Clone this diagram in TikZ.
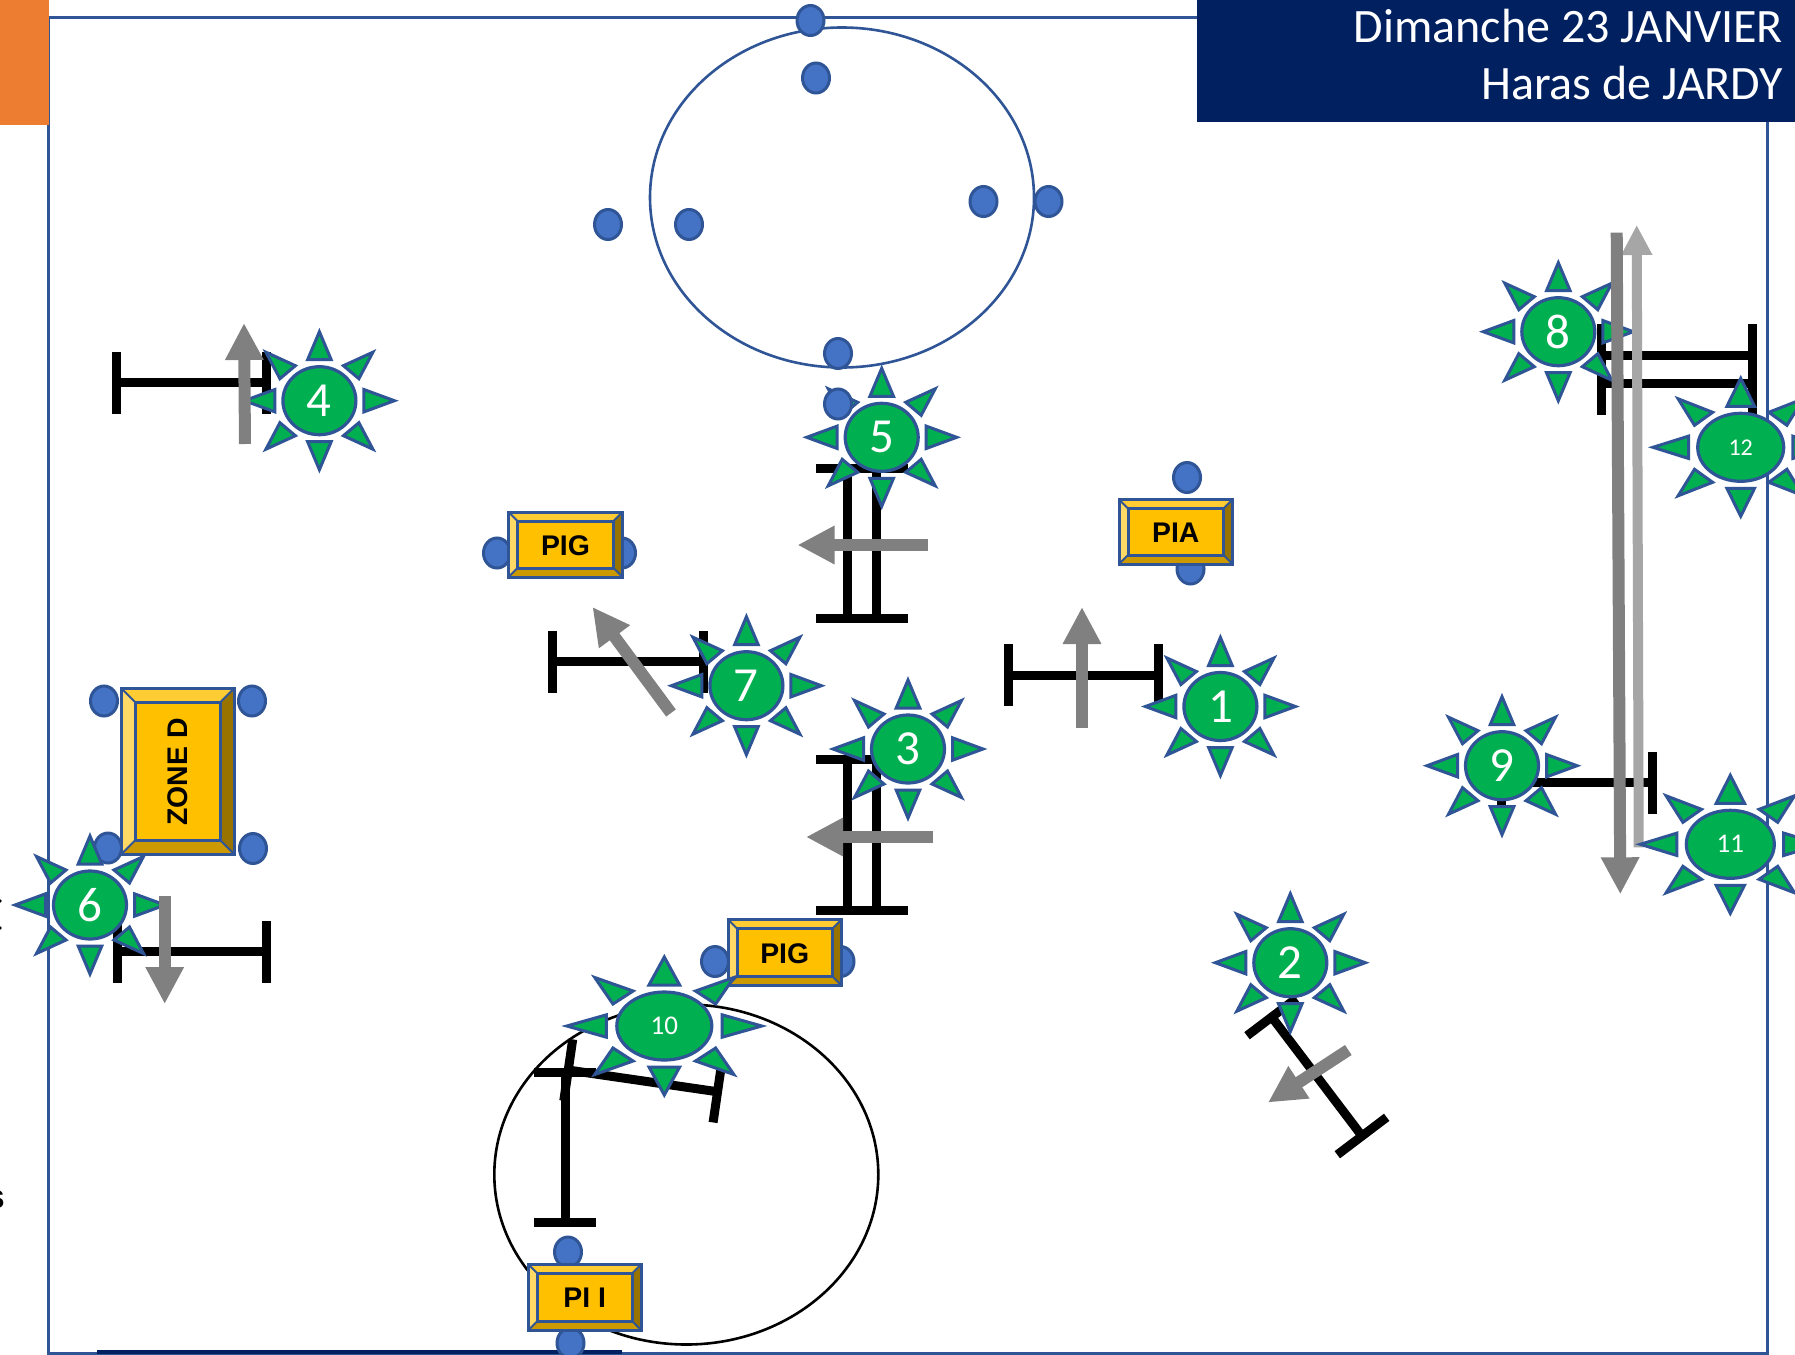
\documentclass[tikz,border=0pt]{standalone}
\usepackage{fontspec}
\setmainfont{Carlito}
\newfontfamily\boxfont{Liberation Sans}[Scale=1]
\usetikzlibrary{arrows.meta,shapes.geometric}
\definecolor{edgeblue}{HTML}{2F5597}
\definecolor{dotblue}{HTML}{4472C4}
\definecolor{sungreen}{HTML}{00B050}
\definecolor{navybar}{HTML}{002060}
\definecolor{orangebar}{HTML}{ED7D31}
\definecolor{gold}{HTML}{FFC000}
\definecolor{goldtop}{HTML}{FFCD33}
\definecolor{goldleft}{HTML}{FFD966}
\definecolor{goldright}{HTML}{997300}
\definecolor{goldbottom}{HTML}{CC9A00}
\tikzset{
  x=1pt,y=-1pt,
  frameline/.style={draw=edgeblue,line width=3pt},
  dotnode/.style={ellipse,draw=edgeblue,fill=dotblue,line width=3pt,minimum width=27pt,minimum height=30pt,inner sep=0pt},
  ibeam/.style={line width=9pt,black,{Rectangle[length=9pt,width=62pt]}-{Rectangle[length=9pt,width=62pt]}},
  blockarrow/.style={line width=12pt,draw={rgb,255:red,128;green,128;blue,128},-{Triangle[length=37pt,width=36pt]}},
  lightarrow/.style={line width=10pt,draw={rgb,255:red,166;green,166;blue,166},-{Triangle[length=30pt,width=29pt]}},
  ray/.style={draw=edgeblue,fill=sungreen,line width=3pt,line join=miter},
  sunbody/.style={ellipse,draw=edgeblue,fill=sungreen,line width=3.2pt,inner sep=0pt,text=white},
  bevel/.style={draw=edgeblue,line width=3pt,line join=miter},
  boxlabel/.style={font=\boxfont\bfseries\fontsize{28.4}{28.4}\selectfont,text=black,inner sep=0pt},
}
% name, cx, cy, xscale, body width, font size, label
\newcommand{\sunmark}[7]{%
  \begin{scope}[shift={(#2,#3)},xscale=#4]
    \draw[ray] (0,-69)--(-11.8,-41)--(11.8,-41)--cycle;
    \draw[ray] (0,69)--(-11.8,41)--(11.8,41)--cycle;
    \draw[ray] (-75,0)--(-44.5,-11.2)--(-44.5,11.2)--cycle;
    \draw[ray] (75,0)--(44.5,-11.2)--(44.5,11.2)--cycle;
    \draw[ray] (53.5,-48.5)--(24,-35)--(39.5,-22)--cycle;
    \draw[ray] (-53.5,-48.5)--(-24,-35)--(-39.5,-22)--cycle;
    \draw[ray] (53.5,48.5)--(24,35)--(39.5,22)--cycle;
    \draw[ray] (-53.5,48.5)--(-24,35)--(-39.5,22)--cycle;
  \end{scope}
  \node[sunbody,minimum width=#5pt,minimum height=68pt,font=\fontsize{#6}{#6}\selectfont] (#1) at (#2,#3) {\raisebox{-0.8pt}{#7}};%
}
% name, x1, y1, x2, y2, inset, label, rotation
\newcommand{\goldbox}[8]{%
  \fill[goldtop] (#2,#3)--(#4,#3)--(#4-#6,#3+#6)--(#2+#6,#3+#6)--cycle;
  \fill[goldleft] (#2,#3)--(#2+#6,#3+#6)--(#2+#6,#5-#6)--(#2,#5)--cycle;
  \fill[goldright] (#4,#3)--(#4,#5)--(#4-#6,#5-#6)--(#4-#6,#3+#6)--cycle;
  \fill[goldbottom] (#2,#5)--(#4,#5)--(#4-#6,#5-#6)--(#2+#6,#5-#6)--cycle;
  \fill[gold] (#2+#6,#3+#6) rectangle (#4-#6,#5-#6);
  \draw[bevel] (#2,#3) rectangle (#4,#5);
  \draw[bevel] (#2+#6,#3+#6) rectangle (#4-#6,#5-#6);
  \draw[bevel,line width=2pt] (#2,#3)--(#2+#6,#3+#6) (#4,#3)--(#4-#6,#3+#6) (#2,#5)--(#2+#6,#5-#6) (#4,#5)--(#4-#6,#5-#6);
  \node[boxlabel,rotate=#8] (#1) at ({(#2+#4)/2},{(#3+#5)/2+0.8}) {#7};%
}
\newcommand{\linkbeam}[5]{%
  \coordinate (#1a) at (#2,#3); \coordinate (#1b) at (#4,#5);
  \draw[ibeam] (#1a) -- (#1b);%
}
\begin{document}
\begin{tikzpicture}
\path[use as bounding box] (0,0) rectangle (1795,1354);
\clip (0,0) rectangle (1795,1354);
\fill[white] (0,0) rectangle (1795,1354);
% frame
\draw[frameline] (48,17.5) rectangle (1767,1353);
\fill[navybar] (97,1350) rectangle (622,1354);
\fill[orangebar] (0,0) rectangle (49,125);
\fill[navybar] (1197,0) rectangle (1795,122);
\node[anchor=base east,text=white,inner sep=0pt,font=\fontsize{48}{48}\selectfont] (t1) at (1783,42) {Dimanche 23 JANVIER};
\node[anchor=base east,text=white,inner sep=0pt,font=\fontsize{48}{48}\selectfont] (t2) at (1783,99.5) {Haras de JARDY};
% stray page fragments at the left edge
\node[anchor=base east,inner sep=0pt,font=\boxfont\bfseries\fontsize{34}{34}\selectfont] (t3) at (5,1208) {s};
\fill (0,901) circle (1.8);
\fill (0,928) circle (1.8);
% big circles
\node[ellipse,draw=edgeblue,line width=2.6pt,minimum width=384pt,minimum height=340pt,inner sep=0pt] (ringtop) at (842,197.5) {};
\node[ellipse,draw=black,line width=2.6pt,minimum width=384pt,minimum height=340pt,inner sep=0pt] (ringbot) at (686.3,1174.5) {};
% dots
\node[dotnode] (d1) at (810.5,20.5) {};
\node[dotnode] (d2) at (816,78) {};
\node[dotnode] (d3) at (608,224.5) {};
\node[dotnode] (d4) at (689,224.5) {};
\node[dotnode] (d5) at (983.5,201.5) {};
\node[dotnode] (d6) at (1048.5,201.5) {};
\node[dotnode] (d7) at (838,353.5) {};
\node[dotnode] (d9) at (1187,477.5) {};
\node[dotnode] (d10) at (1190.5,569) {};
\node[dotnode] (d11) at (497,553) {};
\node[dotnode] (d12) at (622,553) {};
\node[dotnode] (d13) at (104,701) {};
\node[dotnode] (d14) at (252,701) {};
\node[dotnode] (d15) at (108,848) {};
\node[dotnode] (d16) at (253,848.5) {};
\node[dotnode] (d17) at (715,961.5) {};
\node[dotnode] (d18) at (840.5,961.5) {};
\node[dotnode] (d19) at (568,1252) {};
\node[dotnode] (d20) at (570.5,1343) {};
% boxes
\goldbox{pigA}{508.5}{512}{622.5}{577}{9}{PIG}{0}
\goldbox{pia}{1119}{499.5}{1232.5}{564}{9}{PIA}{0}
\goldbox{pigB}{728}{919.5}{841.5}{985.5}{9}{PIG}{0}
\goldbox{pii}{528}{1264}{641.5}{1330.5}{9}{PI I}{0}
\goldbox{zoneD}{121}{688}{234.5}{854.5}{14.5}{ZONE D}{90}
% beams
\linkbeam{ba}{111.5}{382.5}{271.3}{382.5}
\linkbeam{bb}{112.7}{951.7}{271.3}{951.7}
\linkbeam{bc}{547.5}{661.7}{707.5}{661.7}
\linkbeam{bd}{1003.5}{675.4}{1163}{675.4}
\linkbeam{be}{847.3}{463.5}{847.3}{622.7}
\linkbeam{bf}{876.7}{463.5}{876.7}{622.7}
\linkbeam{bg}{847.3}{754.5}{847.3}{914.5}
\linkbeam{bh}{876.7}{754.5}{876.7}{914.5}
\linkbeam{bi}{1597}{355}{1756.7}{355}
\linkbeam{bj}{1597}{383.7}{1756.7}{383.7}
\linkbeam{bk}{1497}{782.7}{1656.5}{782.7}
\linkbeam{bl}{1269}{1013.4}{1364.7}{1139.6}
\linkbeam{bm}{565}{1067.7}{565}{1226.7}
\linkbeam{bn}{563.8}{1069.4}{722}{1092.4}
% suns
\sunmark{s1}{1220.4}{706.5}{1}{73}{49}{1}
\sunmark{s2}{1290.3}{962.7}{1}{73}{49}{2}
\sunmark{s3}{908}{749}{1}{73}{49}{3}
\sunmark{s4}{319.4}{400.7}{1}{73}{49}{4}
\sunmark{s5}{881.7}{437.3}{1}{73}{49}{5}
\sunmark{s6}{90}{905}{1}{73}{49}{6}
\sunmark{s7}{746.4}{685.7}{1}{73}{49}{7}
\sunmark{s8}{1558.3}{331.7}{1}{73}{49}{8}
\sunmark{s9}{1502}{765.7}{1}{73}{49}{9}
\sunmark{s10}{664.3}{1026}{1.3}{95}{27}{10}
\sunmark{s12}{1740.7}{447.3}{1.17}{86}{24}{12}
\node[dotnode] (d8) at (838,404) {};
% arrows
\coordinate (a1s) at (245,444);    \coordinate (a1e) at (244,323);
\coordinate (a2s) at (164.7,896);  \coordinate (a2e) at (164.7,1004);
\coordinate (a3s) at (928,545);    \coordinate (a3e) at (797.5,545);
\coordinate (a4s) at (933,837);    \coordinate (a4e) at (806,837);
\coordinate (a5s) at (1082,728);   \coordinate (a5e) at (1082,607);
\coordinate (a6s) at (671,713);    \coordinate (a6e) at (592.5,607);
\coordinate (a7s) at (1348.3,1050);\coordinate (a7e) at (1268,1102.5);
\coordinate (a8s) at (1616.7,232.7);\coordinate (a8e) at (1620.3,894.3);
\coordinate (a9s) at (1638.7,847.3);\coordinate (a9e) at (1636.7,225);
\draw[blockarrow] (a1s) -- (a1e);
\draw[blockarrow] (a2s) -- (a2e);
\draw[blockarrow] (a3s) -- (a3e);
\draw[blockarrow] (a4s) -- (a4e);
\draw[blockarrow] (a5s) -- (a5e);
\draw[blockarrow] (a6s) -- (a6e);
\draw[blockarrow] (a7s) -- (a7e);
\draw[lightarrow] (a9s) -- (a9e);
\draw[blockarrow] (a8s) -- (a8e);
\sunmark{s11}{1730.3}{844.3}{1.2}{88}{27}{11}
\end{tikzpicture}
\end{document}
